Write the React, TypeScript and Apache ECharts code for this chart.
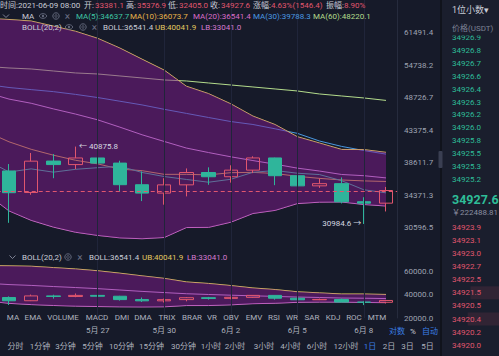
import React, { useEffect, useRef } from 'react';
import * as echarts from 'echarts';

// ---------- data ----------
const dates = ['5月 22','5月 23','5月 24','5月 25','5月 26','5月 27','5月 28','5月 29','5月 30','5月 31','6月 1','6月 2','6月 3','6月 4','6月 5','6月 6','6月 7','6月 8','6月 9'];
const opens = [37470, 37458, 34681, 38810, 38324, 39241, 38530, 35659, 34606, 35642, 37254, 36694, 37569, 39246, 36829, 35516, 35796, 33556, 33381.1];
const closes = [37450, 34655, 38796, 38324, 39241, 38529, 35663, 34605, 35641, 37253, 36693, 37568, 39246, 36829, 35513, 35796, 33552, 33380, 34927.6];
const lows = [35260, 31111, 34400, 36500, 37700, 37200, 34800, 33630, 33200, 34200, 35650, 35930, 37170, 35600, 34850, 35259, 33350, 30984.6, 32405.0];
const highs = [38850, 38400, 39950, 39800, 40875.8, 40300, 38860, 37400, 36500, 37800, 37950, 38225, 39480, 39290, 37925, 36480, 36600, 34100, 35376.9];
const ma5 = [38940, 37320, 37740, 37300, 37680, 37900, 38100, 37260, 36720, 36340, 35980, 36360, 37280, 37520, 37160, 36980, 36180, 35020, 34637.7];
const ma10 = [43080, 41580, 40480, 39640, 38920, 38420, 37710, 37500, 37010, 37010, 36940, 37230, 37270, 37120, 36750, 36480, 36270, 36150, 36073.7];
const ma20 = [49580, 48450, 47730, 46780, 45920, 44980, 43820, 42640, 41630, 40660, 40010, 39410, 38880, 38380, 37840, 37450, 36990, 36830, 36541.4];
const ma30 = [51050, 50500, 50120, 49760, 49270, 48720, 48080, 47450, 46710, 46030, 45360, 44710, 44240, 43560, 42860, 41700, 40900, 40300, 39788.3];
const ma60 = [54451, 54159, 53964, 53581, 53199, 53008, 52632, 52256, 51881, 51697, 51328, 50960, 50598, 50237, 49880, 49346, 48993, 48646, 48220.1];
const ub = [64660, 64430, 64070, 62920, 61760, 60220, 58160, 55890, 53740, 50730, 49410, 47640, 45590, 44230, 42350, 41400, 40460, 40440, 40041.9];
const lb = [34490, 32470, 31390, 30640, 30080, 29740, 29480, 29390, 29520, 30590, 30610, 31180, 32170, 32530, 33330, 33500, 33520, 33220, 33041.0];
const lastPrice = 34927.6;

const yTicks = [30596.5, 34371.3, 38611.7, 43375.4, 48726.7, 54738.2, 61491.4];
const subTicks = [20000, 40000, 60000];

const asks = [34926.9, 34926.8, 34926.7, 34926.6, 34926.4, 34926.3, 34926.2, 34926.0, 34925.8, 34925.5, 34925.3, 34925.2];
const bids = [34923.9, 34923.1, 34923.0, 34922.7, 34922.5, 34921.5, 34920.5, 34920.4, 34920.2, 34920.0, 34919.8];
const bidDepth = [0, 0, 0, 0, 0, 0.5, 0, 0.55, 0, 0, 0];
const cnyPrice = '￥222488.81';

const tabs = ['MA','EMA','VOLUME','MACD','DMI','DMA','TRIX','BRAR','VR','OBV','EMV','RSI','WR','SAR','KDJ','ROC','MTM'];
const periods = ['分时','1分钟','3分钟','5分钟','10分钟','15分钟','30分钟','1小时','2小时','3小时','4小时','6小时','12小时','1日','2日','3日','5日'];
const activePeriod = '1日';

// ---------- layout / style ----------
const FONT = 'Roboto, "Noto Sans CJK SC", "Noto Sans", sans-serif';
const C = {
  bg: '#161a29', panel: '#1a1e2d', white: '#c9ccd6', gray: '#8a8fa0', dim: '#6b7084',
  red: '#e0566e', green: '#2ebd98', blue: '#3a7fe6',
  ma5: '#3ec6a4', ma10: '#e6b34a', ma20: '#d86cc8', ma20line: '#e3a4ef', ma30: '#4a98e0', ma60: '#b4dc8c',
  ub: '#e2c860', lb: '#d57ad0', band: 'rgba(128,26,142,0.5)', grid: '#20253a', axis: '#262b3d',
};
const tabX = [13, 33, 63, 97, 122, 143, 167, 192, 212, 231, 254, 274, 292, 312, 333, 354, 377];
const periodX = [15.5, 40, 65.5, 92.5, 121.5, 151.5, 183.5, 211, 235, 264, 290.5, 317, 346, 370, 389, 407.5, 427.5];

const LN = Math.log;
const D = LN(yTicks[6] / yTicks[0]) / 6;

function T(x: number, y: number, text: string, fill: string, o: any = {}) {
  const align = o.align || 'left';
  return {
    type: 'text', x, y, z: o.z || 100, silent: true,
    style: {
      text, fill, fontSize: o.size || 8, fontFamily: FONT, fontWeight: o.weight || 'normal',
      align, verticalAlign: 'middle', textAlign: align, textVerticalAlign: 'middle',
    },
  };
}
function eye(cx: number, cy: number) {
  return [
    { type: 'ellipse', z: 100, silent: true, shape: { cx, cy, rx: 3.6, ry: 2.3 }, style: { fill: 'none', stroke: C.dim, lineWidth: 0.9 } },
    { type: 'circle', z: 100, silent: true, shape: { cx, cy, r: 1.1 }, style: { fill: C.dim } },
  ];
}
function gear(cx: number, cy: number) {
  return [
    { type: 'circle', z: 100, silent: true, shape: { cx, cy, r: 3.2 }, style: { fill: 'none', stroke: C.dim, lineWidth: 0.9 } },
    { type: 'circle', z: 100, silent: true, shape: { cx, cy, r: 1.2 }, style: { fill: 'none', stroke: C.dim, lineWidth: 0.8 } },
  ];
}
function chevron(cx: number, cy: number) {
  return { type: 'polyline', z: 100, silent: true, shape: { points: [[cx - 3, cy - 1.5], [cx, cy + 1.5], [cx + 3, cy - 1.5]] }, style: { fill: 'none', stroke: C.gray, lineWidth: 0.9 } };
}

function buildGraphics() {
  const g: any[] = [];
  // order book panel
  g.push({ type: 'rect', z: 90, silent: true, shape: { x: 441, y: 0, width: 58, height: 356 }, style: { fill: C.panel } });
  g.push({ type: 'rect', z: 91, silent: true, shape: { x: 440, y: 0, width: 2, height: 356 }, style: { fill: '#10131c' } });
  g.push({ type: 'rect', z: 92, silent: true, shape: { x: 438.5, y: 151, width: 4, height: 17, r: 1 }, style: { fill: '#3a3f52' } });
  asks.forEach((p, i) => g.push(T(452, 37.5 + i * 12.9, p.toFixed(1), C.green, { z: 94 })));
  bids.forEach((p, i) => {
    const y = 227.3 + i * 13.1;
    if (bidDepth[i] > 0) {
      const w = 57 * bidDepth[i];
      g.push({ type: 'rect', z: 93, silent: true, shape: { x: 499 - w, y: y - 6.5, width: w, height: 13 }, style: { fill: 'rgba(224,86,110,0.12)' } });
    }
    g.push(T(452, y, p.toFixed(1), C.red, { z: 94 }));
  });
  g.push({ type: 'rect', z: 96, silent: true, shape: { x: 442, y: 0, width: 57, height: 35.5 }, style: { fill: C.panel } });
  g.push(T(452, 10, '1位小数▾', C.white, { size: 9, z: 97 }));
  g.push(T(452, 28, '价格(USDT)', '#7d8294', { z: 97 }));
  g.push(T(452, 199, lastPrice.toFixed(1), C.green, { size: 12.5, weight: 'bold', z: 97 }));
  g.push(T(452, 212.5, cnyPrice, C.gray, { z: 97 }));

  // header row 1
  const r1: [string, string, number][] = [
    ['时间:2021-06-09 08:00', C.white, 0], ['开:', C.white, 84], ['33381.1', C.red, 95],
    ['高:', C.white, 126], ['35376.9', C.red, 137], ['低:', C.white, 168], ['32405.0', C.red, 179],
    ['收:', C.white, 210], ['34927.6', C.red, 221], ['涨幅:', C.white, 253], ['4.63%(1546.4)', C.red, 271],
    ['振幅:', C.white, 326], ['8.90%', C.red, 344],
  ];
  r1.forEach(([t, c, x]) => g.push(T(x, 5.5, t, c)));
  // header row 2 (MA)
  g.push(chevron(6, 16));
  g.push(T(22, 16, 'MA', C.white));
  g.push(...eye(43, 16), ...gear(56, 16));
  g.push(T(67.5, 16, '×', C.dim, { size: 10, align: 'center' }));
  const r2: [string, string, number][] = [
    ['MA(5):34637.7', C.ma5, 76], ['MA(10):36073.7', C.ma10, 130], ['MA(20):36541.4', C.ma20, 193],
    ['MA(30):39788.3', C.ma30, 253], ['MA(60):48220.1', C.ma60, 313],
  ];
  r2.forEach(([t, c, x]) => g.push(T(x, 16, t, c)));
  // header row 3 (BOLL)
  g.push(T(22, 27, 'BOLL(20,2)', C.white));
  g.push(...eye(69, 27), ...gear(83, 27));
  g.push(T(94.5, 27, '×', C.dim, { size: 10, align: 'center' }));
  g.push(T(103, 27, 'BOLL:36541.4', C.white));
  g.push(T(155, 27, 'UB:40041.9', C.ub));
  g.push(T(201, 27, 'LB:33041.0', C.lb));
  // sub header
  g.push(chevron(12.5, 257));
  g.push(T(22, 257, 'BOLL(20,2)', C.white));
  g.push({ type: 'circle', z: 100, silent: true, shape: { cx: 68, cy: 257, r: 3.2 }, style: { fill: 'none', stroke: C.dim, lineWidth: 0.9 } });
  g.push({ type: 'circle', z: 100, silent: true, shape: { cx: 68, cy: 257, r: 1.3 }, style: { fill: 'none', stroke: C.dim, lineWidth: 0.8 } });
  g.push(T(80, 257, '×', C.dim, { size: 10, align: 'center' }));
  g.push(T(89, 257, 'BOLL:36541.4', C.white));
  g.push(T(142, 257, 'UB:40041.9', C.ub));
  g.push(T(187, 257, 'LB:33041.0', C.lb));
  // indicator tabs
  tabs.forEach((t, i) => g.push(T(tabX[i], 317, t, '#aeb2be', { align: 'center' })));
  // scale toggles
  g.push(T(397, 331, '对数', C.blue, { align: 'center' }));
  g.push(T(413, 331, '%', C.white, { align: 'center' }));
  g.push(T(430, 331, '自动', C.blue, { align: 'center' }));
  // periods
  periods.forEach((t, i) => g.push(T(periodX[i], 346, t, t === activePeriod ? C.blue : '#aeb2be', { align: 'center' })));
  return g;
}

function buildOption() {
  const labelIdx = dates.map((_, i) => i).filter((i) => i >= 5 && i % 3 === 2);
  const hiIdx = highs.indexOf(Math.max(...highs));
  const loIdx = lows.indexOf(Math.min(...lows));
  const candleStyle = { color: 'rgba(0,0,0,0)', color0: '#2fb59b', borderColor: C.red, borderColor0: '#2fb59b', borderWidth: 1 };
  const line = (data: number[], color: string, xi: number, extra: any = {}) => ({
    type: 'line', data, xAxisIndex: xi, yAxisIndex: xi, showSymbol: false, symbol: 'none', silent: true,
    lineStyle: { width: 1, color }, itemStyle: { color }, z: 1, ...extra,
  });
  const vLines = {
    silent: true, symbol: ['none', 'none'], label: { show: false },
    lineStyle: { color: C.grid, type: 'solid', width: 1 },
    data: labelIdx.map((i) => ({ xAxis: dates[i] })),
  };
  const band = (xi: number, f: (v: number) => number) => ({
    type: 'custom', xAxisIndex: xi, yAxisIndex: xi, z: 2, silent: true, clip: false,
    data: [[0, f(ub[0])]],
    renderItem: (params: any, api: any) => {
      const pts: number[][] = [];
      for (let i = 0; i < ub.length; i++) pts.push(api.coord([i, f(ub[i])]));
      for (let i = lb.length - 1; i >= 0; i--) pts.push(api.coord([i, f(lb[i])]));
      return { type: 'polygon', shape: { points: pts }, style: { fill: C.band } };
    },
  });
  const id = (v: number) => v;
  const lnA = (a: number[]) => a.map((v) => LN(v));

  return {
    animation: false,
    backgroundColor: C.bg,
    textStyle: { fontFamily: FONT },
    grid: [
      { left: -24.26, top: 0, width: 421.35, height: 260, containLabel: false, outerBoundsMode: 'none' },
      { left: -24.26, top: 247.5, width: 421.35, height: 70.5, containLabel: false, outerBoundsMode: 'none' },
    ],
    xAxis: [
      { type: 'category', gridIndex: 0, data: dates, boundaryGap: true, axisLine: { show: false }, axisTick: { show: false }, axisLabel: { show: false }, splitLine: { show: false } },
      {
        type: 'category', gridIndex: 1, data: dates, boundaryGap: true, axisLine: { show: false }, axisTick: { show: false }, splitLine: { show: false },
        axisLabel: { show: true, interval: (i: number) => i >= 5 && i % 3 === 2, color: '#aeb2be', fontSize: 8, margin: 8, fontFamily: FONT },
      },
    ],
    yAxis: [
      {
        type: 'value', gridIndex: 0, position: 'right', min: LN(yTicks[0]) - D, max: LN(yTicks[6]) + D, interval: D, scale: true,
        axisLine: { show: true, lineStyle: { color: C.axis } }, axisTick: { show: false }, splitLine: { show: false },
        axisLabel: {
          color: '#9ea3b1', fontSize: 8, margin: 7, fontFamily: FONT,
          formatter: (v: number) => { const t = yTicks.find((t) => Math.abs(LN(t) - v) < D / 4); return t ? t.toFixed(1) : ''; },
        },
      },
      {
        type: 'value', gridIndex: 1, position: 'right', min: 20000, max: 80000, interval: 20000,
        axisLine: { show: true, lineStyle: { color: C.axis } }, axisTick: { show: false }, splitLine: { show: false },
        axisLabel: {
          color: '#9ea3b1', fontSize: 8, margin: 7, fontFamily: FONT,
          formatter: (v: number) => (subTicks.indexOf(Math.round(v)) >= 0 ? v.toFixed(1) : ''),
        },
      },
    ],
    series: [
      // main panel
      line(lnA(ma60), C.ma60, 0, { markLine: vLines }),
      line(lnA(ma30), C.ma30, 0),
      line(lnA(ma20), C.ma20line, 0),
      line(lnA(ma10), C.ma10, 0),
      line(lnA(ma5), C.ma5, 0),
      line(lnA(ub), C.ub, 0),
      line(lnA(lb), C.lb, 0),
      band(0, LN),
      {
        type: 'candlestick', xAxisIndex: 0, yAxisIndex: 0, z: 3, barWidth: 14, silent: true,
        data: dates.map((_, i) => [LN(opens[i]), LN(closes[i]), LN(lows[i]), LN(highs[i])]),
        itemStyle: candleStyle,
        markLine: {
          silent: true, symbol: ['none', 'none'], label: { show: false },
          lineStyle: { color: C.red, type: [4, 3], width: 1 },
          data: [{ yAxis: LN(lastPrice) }],
        },
        markPoint: {
          silent: true, symbol: 'circle', symbolSize: 1, itemStyle: { color: 'rgba(0,0,0,0)' },
          data: [
            { coord: [dates[hiIdx], LN(highs[hiIdx])], label: { show: true, position: 'right', distance: 3, formatter: '← ' + highs[hiIdx].toFixed(1), color: '#d5d8e0', fontSize: 8 } },
            { coord: [dates[loIdx], LN(lows[loIdx])], label: { show: true, position: 'left', distance: 2, formatter: lows[loIdx].toFixed(1) + ' →', color: '#d5d8e0', fontSize: 8 } },
          ],
        },
      },
      // sub panel
      line(ub, C.ub, 1, { markLine: vLines }),
      line(ma20, C.ma20line, 1),
      line(lb, C.lb, 1),
      band(1, id),
      {
        type: 'candlestick', xAxisIndex: 1, yAxisIndex: 1, z: 3, barWidth: 14, silent: true,
        data: dates.map((_, i) => [opens[i], closes[i], lows[i], highs[i]]),
        itemStyle: candleStyle,
      },
    ],
    graphic: { elements: buildGraphics() },
  };
}

export default function App() {
  const ref = useRef<HTMLDivElement>(null);
  useEffect(() => {
    document.body.style.margin = '0';
    const chart = echarts.init(ref.current as HTMLDivElement, null, { renderer: 'svg' });
    chart.setOption(buildOption() as any);
    return () => chart.dispose();
  }, []);
  return <div ref={ref} style={{ width: 499, height: 356, background: '#161a29' }} />;
}
